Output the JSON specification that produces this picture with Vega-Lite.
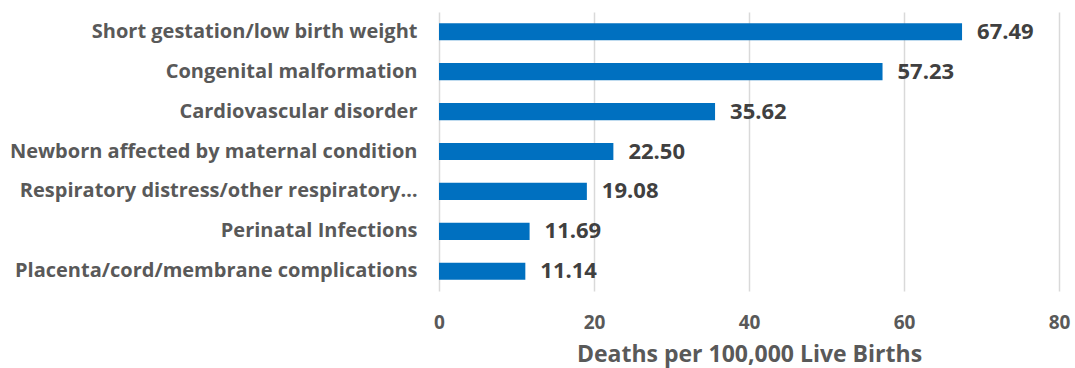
{
  "$schema": "https://vega.github.io/schema/vega-lite/v6.json",
  "autosize": {"type": "none"},
  "padding": {"left": 439, "top": 12, "right": 16, "bottom": 77},
  "width": 620,
  "height": 279,
  "background": "white",
  "config": {"view": {"stroke": null}, "font": "Open Sans"},
  "data": {"values": [
    {"cause": "Short gestation/low birth weight", "rate": 67.49},
    {"cause": "Congenital malformation", "rate": 57.23},
    {"cause": "Cardiovascular disorder", "rate": 35.62},
    {"cause": "Newborn affected by maternal condition", "rate": 22.50},
    {"cause": "Respiratory distress/other respiratory…", "rate": 19.08},
    {"cause": "Perinatal Infections", "rate": 11.69},
    {"cause": "Placenta/cord/membrane complications", "rate": 11.14}
  ]},
  "encoding": {
    "y": {"field": "cause", "type": "nominal", "sort": null,
      "scale": {"paddingInner": 0.57, "paddingOuter": 0.28},
      "axis": {"title": null, "domain": false, "ticks": false, "labelPadding": 22,
        "labelFont": "Open Sans", "labelFontSize": 20, "labelFontWeight": "bold", "labelColor": "#595959", "labelLimit": 500}},
    "x": {"field": "rate", "type": "quantitative",
      "scale": {"domain": [0, 80], "nice": false},
      "axis": {"values": [0, 20, 40, 60, 80], "title": "Deaths per 100,000 Live Births",
        "domain": false, "ticks": false, "grid": true, "gridColor": "#d9d9d9", "gridWidth": 1.5,
        "labelFlush": false, "labelOverlap": false,
        "labelPadding": 22, "labelFont": "Open Sans", "labelFontSize": 19, "labelFontWeight": "bold", "labelColor": "#595959",
        "titleFont": "Open Sans", "titleFontSize": 23, "titleFontWeight": "bold", "titleColor": "#595959", "titlePadding": 11}}
  },
  "layer": [
    {"mark": {"type": "bar", "color": "#0070c0"}},
    {"mark": {"type": "text", "align": "left", "dx": 15, "font": "Open Sans", "fontSize": 22, "fontWeight": "bold", "color": "#404040"},
      "encoding": {"text": {"field": "rate", "type": "quantitative", "format": ".2f"}}}
  ]
}
